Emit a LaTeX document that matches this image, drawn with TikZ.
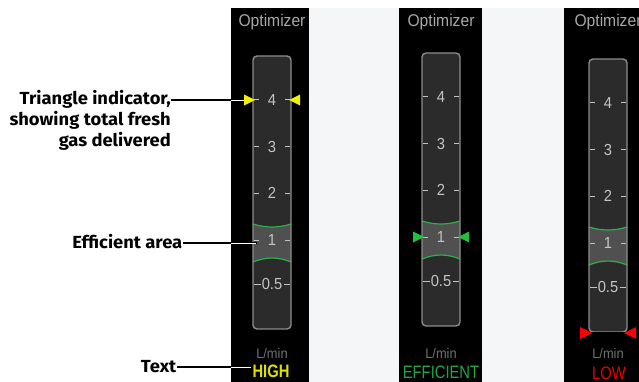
\documentclass[tikz,border=0pt]{standalone}
\usepackage{fontspec}
\setmainfont{Liberation Sans}
\newfontfamily\labfont[FakeStretch=1.05]{Fira Sans}
\newfontfamily\dispfont[FakeStretch=0.82]{Liberation Sans}
\newfontfamily\numfont[FakeStretch=0.92]{Liberation Sans}
\definecolor{gapbg}{HTML}{F5F6F8}
\definecolor{tubefill}{HTML}{2B2B2B}
\definecolor{tubeborder}{HTML}{8C8C8C}
\definecolor{effill}{HTML}{505050}
\definecolor{numgray}{HTML}{C4C4C4}
\definecolor{optgray}{HTML}{A8A8A8}
\definecolor{unitgray}{HTML}{707070}
\definecolor{arcgreen}{HTML}{2DB04A}
\definecolor{trigreen}{HTML}{22C03A}
\definecolor{yel}{HTML}{F2F200}
\definecolor{hightxt}{HTML}{E0E000}
\definecolor{efftxt}{HTML}{1FA64A}
\definecolor{lowtxt}{HTML}{E80000}
\definecolor{trired}{HTML}{FF0000}
\definecolor{baseline}{HTML}{C8C8C8}
\tikzset{
  lab/.style={font=\labfont\bfseries\fontsize{17.5}{21}\selectfont, text=black, inner sep=0pt},
  opttxt/.style={font=\numfont\fontsize{17}{19}\selectfont, text=optgray, inner sep=0pt},
  numtxt/.style={font=\numfont\fontsize{16}{17}\selectfont, text=numgray, inner sep=0pt},
  unittxt/.style={font=\numfont\fontsize{14}{16}\selectfont, text=unitgray, inner sep=0pt},
  stattxt/.style={font=\dispfont\fontsize{18}{20}\selectfont, inner sep=0pt},
  tick/.style={draw=numgray, line width=1pt},
  tube/.style={rounded corners=4pt},
  greenarc/.style={draw=arcgreen, line width=1.2pt},
  conn/.style={draw=black, line width=2.2pt},
  conncore/.style={draw=white, line width=0.7pt},
}
\newcommand\gauge[3]{%
  % #1 name, #2 centre x, #3 y of the "4" mark
  \begin{scope}[shift={(#2,#3)}]
    \fill[tubefill, tube] (-19,-44) rectangle (19,229);
    \fill[effill] (-19,124) .. controls (-6,128) and (6,128) .. (19,124)
       -- (19,162) .. controls (6,156.7) and (-6,156.7) .. (-19,162) -- cycle;
    \draw[greenarc] (-19,124) .. controls (-6,128) and (6,128) .. (19,124);
    \draw[greenarc] (-19,162) .. controls (-6,156.7) and (6,156.7) .. (19,162);
    \foreach \yy/\lbl/\nm in {0/4/a,47/3/b,93/2/c,140/1/d}{
      \draw[tick] (-18,\yy) -- (-13,\yy);
      \draw[tick] (13,\yy) -- (18,\yy);
      \node[numtxt] (#1-\nm) at (0,\yy) {\lbl};
    }
    \draw[tick] (-18,184) -- (-11.5,184);
    \draw[tick] (11.5,184) -- (18,184);
    \node[numtxt] (#1-e) at (0,184) {0.5};
    \draw[tubeborder, line width=1.4pt, tube] (-19,-44) rectangle (19,229);
  \end{scope}
  \node[opttxt] (#1-opt) at (#2,22) {Optimizer};
  \node[unittxt] (#1-unit) at (#2,353) {L/min};
}
\begin{document}
\begin{tikzpicture}[x=1pt,y=-1pt]
\useasboundingbox (0,0) rectangle (639,382);
\clip (0,0) rectangle (639,382);
\fill[white] (0,0) rectangle (639,382);
\fill[gapbg] (309,8) rectangle (639,382);
\fill[black] (231,8) rectangle (309,382);
\fill[black] (399,8) rectangle (482,382);
\fill[black] (564,8) rectangle (639,382);

\gauge{p1}{272}{100}
\gauge{p2}{441}{97}
\gauge{p3}{608}{103}

% status texts
\node[stattxt, text=hightxt, font=\dispfont\bfseries\fontsize{18}{20}\selectfont] (p1-stat) at (271,371) {HIGH};
\node[stattxt, text=efftxt] (p2-stat) at (441,372) {EFFICIENT};
\node[stattxt, text=lowtxt] (p3-stat) at (609,373) {LOW};

% panel 3 bottom bar
\draw[baseline, line width=1.6pt] (591,333) -- (625,333);

% labels
\node[lab, anchor=north east, align=right] (trilab) at (171,90.5) {Triangle indicator,\\showing total fresh\\gas delivered};
\node[lab, anchor=base east] (efflab) at (182.5,248.5) {Efficient area};
\node[lab, anchor=base east] (txtlab) at (176.5,372) {Text};

\coordinate (triA) at (171,100);
\coordinate (triB) at (247,100);
\coordinate (effA) at (183,243);
\coordinate (effB) at (257,243);
\coordinate (txtA) at (177,367);
\coordinate (txtB) at (252,367);
\coordinate (triW) at (231,100);
\coordinate (effW) at (231,243);
\coordinate (txtW) at (231,367);

\draw[conn] (triA) -- (triB);
\draw[conncore] (triW) -- (triB);
\draw[conn] (effA) -- (effB);
\draw[conncore] (effW) -- ([xshift=-1pt]effB);
\draw[conn] (txtA) -- (txtB);
\draw[conncore] (txtW) -- ([xshift=-1pt]txtB);

% triangles
\fill[yel] (244,94.5) -- (255,100) -- (244,105.5) -- cycle;
\fill[yel] (300,94.5) -- (289,100) -- (300,105.5) -- cycle;
\fill[trigreen] (413,231.5) -- (424,237) -- (413,242.5) -- cycle;
\fill[trigreen] (469,231.5) -- (458,237) -- (469,242.5) -- cycle;
\fill[trired] (580,327) -- (592,333) -- (580,339) -- cycle;
\fill[trired] (636,327) -- (624,333) -- (636,339) -- cycle;
\end{tikzpicture}
\end{document}
